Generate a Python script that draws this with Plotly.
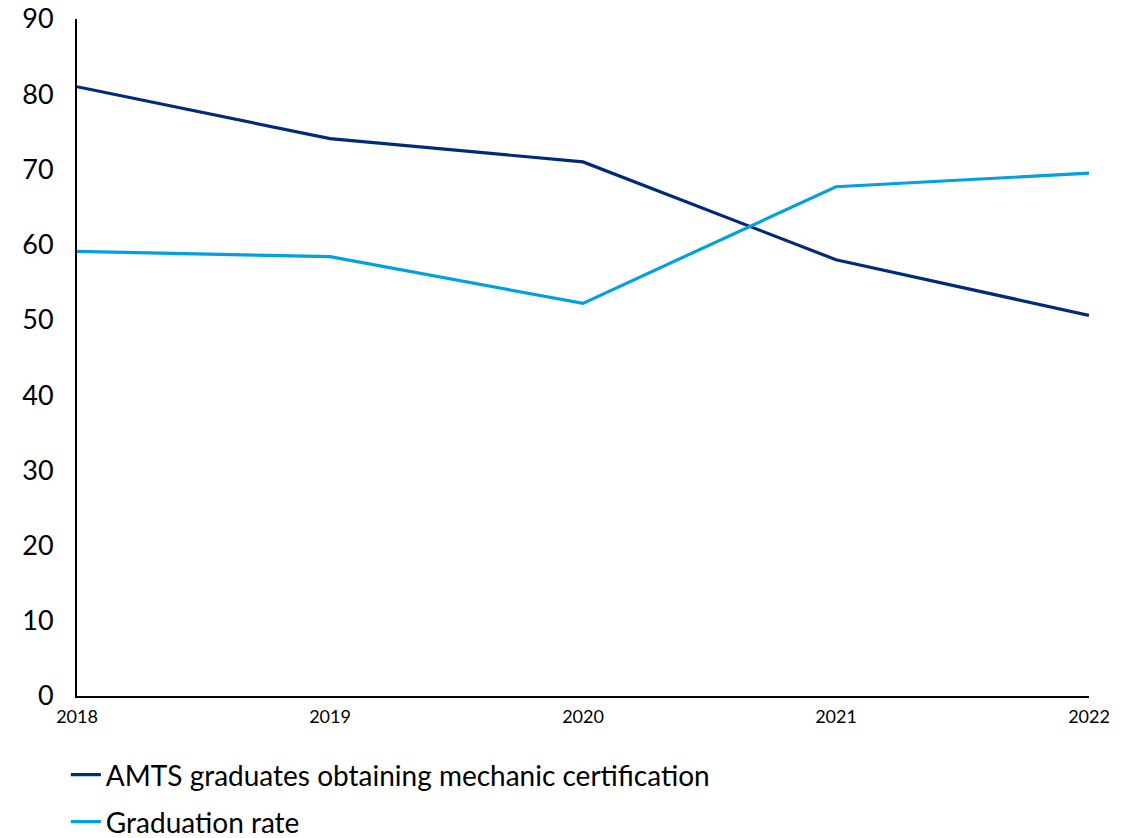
import plotly.graph_objects as go

years = [2018, 2019, 2020, 2021, 2022]
amts_cert = [81.0, 74.1, 71.0, 58.0, 50.6]
grad_rate = [59.1, 58.4, 52.2, 67.7, 69.5]
series_names = ["AMTS graduates obtaining mechanic certification", "Graduation rate"]
y_ticks = [0, 10, 20, 30, 40, 50, 60, 70, 80, 90]

FONT = "Lato"

fig = go.Figure()
fig.add_trace(go.Scatter(x=years, y=amts_cert, mode="lines", name=series_names[0],
                         line=dict(color="#002B7A", width=3.2), legend="legend"))
fig.add_trace(go.Scatter(x=years, y=grad_rate, mode="lines", name=series_names[1],
                         line=dict(color="#00A0E2", width=3.2), legend="legend2"))

legend_common = dict(orientation="v", xanchor="left", yanchor="middle",
                     font=dict(family=FONT, size=28, color="#000000"),
                     bgcolor="rgba(0,0,0,0)", borderwidth=0, itemwidth=30)

fig.update_layout(
    width=1142, height=838,
    margin=dict(l=77, r=53, t=19, b=142, autoexpand=False),
    paper_bgcolor="white", plot_bgcolor="white",
    font=dict(family=FONT, color="#000000"),
    showlegend=True,
    legend=dict(x=-0.011, y=-0.1167, **legend_common),
    legend2=dict(x=-0.011, y=-0.186, **legend_common),
    xaxis=dict(range=[2018, 2022], tickvals=years, ticktext=[str(y) for y in years],
               showgrid=False, zeroline=False, showline=True, linecolor="#000000",
               linewidth=2, ticks="", tickfont=dict(family=FONT, size=18),
               ticklabelstandoff=3, automargin=False, ticklabeloverflow="allow"),
    yaxis=dict(range=[0, 90], tickvals=y_ticks, showgrid=False, zeroline=False,
               showline=True, linecolor="#000000", linewidth=2, ticks="",
               tickfont=dict(family=FONT, size=27), ticklabelstandoff=16,
               automargin=False, ticklabeloverflow="allow"),
)

fig.write_html("out.html", config={"displayModeBar": False},
               post_script="document.body.style.margin='0';document.body.style.overflow='hidden';")
